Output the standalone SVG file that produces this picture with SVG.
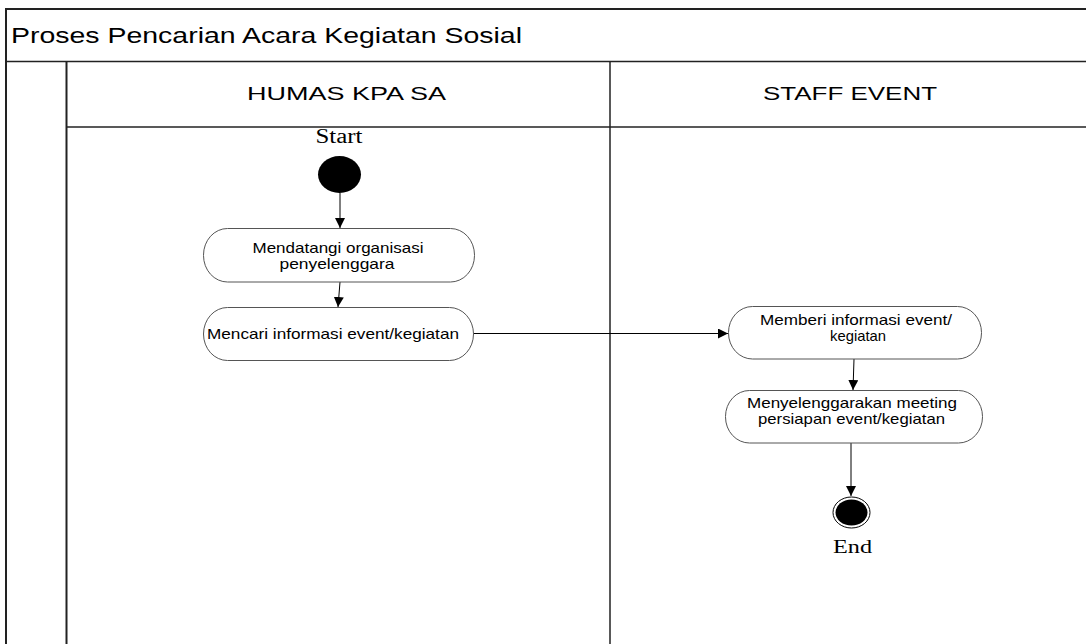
<svg xmlns="http://www.w3.org/2000/svg" width="1086" height="644" viewBox="0 0 1086 644">
<style>
.frame{fill:none;stroke:#222;stroke-width:1.3}
.node{fill:#fff;stroke:#555;stroke-width:1}
.t{font-family:"Liberation Sans",Arial,sans-serif;fill:#000}
.nt{font-family:"Liberation Sans",Arial,sans-serif;font-size:15px;fill:#000;text-anchor:middle}
.s{font-family:"Liberation Serif","Times New Roman",serif;fill:#000;text-anchor:middle}
.edge{fill:none;stroke:#000;stroke-width:1}
</style>
<defs>
<marker id="arr" viewBox="0 0 10 10" refX="10" refY="5" markerWidth="10" markerHeight="10" markerUnits="userSpaceOnUse" orient="auto">
<path d="M0,0 L10,5 L0,10 z" fill="#000"/>
</marker>
</defs>
<rect width="1086" height="644" fill="#fff"/>
<g id="frame">
<line x1="5" y1="9" x2="1086" y2="9" stroke="#222" stroke-width="2.2"/>
<line x1="6" y1="8" x2="6" y2="644" stroke="#222" stroke-width="2"/>
<line x1="6" y1="61.5" x2="1086" y2="61.5" class="frame"/>
<line x1="66.5" y1="61.5" x2="66.5" y2="644" stroke="#222" stroke-width="2"/>
<line x1="67" y1="127" x2="1086" y2="127" class="frame"/>
<line x1="610" y1="61.5" x2="610" y2="644" stroke="#222" stroke-width="1.5"/>
<text class="t" x="11" y="43" font-size="22.5" textLength="511" lengthAdjust="spacingAndGlyphs">Proses Pencarian Acara Kegiatan Sosial</text>
</g>
<g id="lane-humas">
<text class="t" x="247" y="100" font-size="19" textLength="199" lengthAdjust="spacingAndGlyphs">HUMAS KPA SA</text>
</g>
<g id="lane-staff">
<text class="t" x="763" y="100" font-size="19" textLength="174" lengthAdjust="spacingAndGlyphs">STAFF EVENT</text>
</g>
<g id="connectors">
<line class="edge" x1="340" y1="193" x2="340" y2="228" marker-end="url(#arr)"/>
<line class="edge" x1="340" y1="282" x2="338" y2="307" marker-end="url(#arr)"/>
<line class="edge" x1="474" y1="333.5" x2="728" y2="333.5" marker-end="url(#arr)"/>
<line class="edge" x1="854" y1="359" x2="853" y2="390" marker-end="url(#arr)"/>
<line class="edge" x1="851" y1="443" x2="851" y2="496" marker-end="url(#arr)"/>
</g>
<g id="start">
<text class="s" x="339" y="143" font-size="20" textLength="47" lengthAdjust="spacingAndGlyphs">Start</text>
<ellipse cx="339.5" cy="174.5" rx="21.5" ry="18.5" fill="#000"/>
</g>
<g id="n1">
<rect class="node" x="203.5" y="228.5" width="271" height="53.5" rx="24" ry="26.5"/>
<text class="nt" x="338" y="253" textLength="171" lengthAdjust="spacingAndGlyphs">Mendatangi organisasi</text>
<text class="nt" x="337" y="268.5" textLength="115" lengthAdjust="spacingAndGlyphs">penyelenggara</text>
</g>
<g id="n2">
<rect class="node" x="203.5" y="307.5" width="270" height="53" rx="24" ry="26.5"/>
<text class="nt" x="333" y="338.5" textLength="252" lengthAdjust="spacingAndGlyphs">Mencari informasi event/kegiatan</text>
</g>
<g id="n3">
<rect class="node" x="728.5" y="306.5" width="253" height="52.5" rx="24" ry="26"/>
<text class="nt" x="856" y="325" textLength="192" lengthAdjust="spacingAndGlyphs">Memberi informasi event/</text>
<text class="nt" x="858" y="341" textLength="56" lengthAdjust="spacingAndGlyphs">kegiatan</text>
</g>
<g id="n4">
<rect class="node" x="725.5" y="390.5" width="257" height="52.5" rx="24" ry="26"/>
<text class="nt" x="852" y="408" textLength="210" lengthAdjust="spacingAndGlyphs">Menyelenggarakan meeting</text>
<text class="nt" x="851.5" y="424" textLength="187" lengthAdjust="spacingAndGlyphs">persiapan event/kegiatan</text>
</g>
<g id="end">
<ellipse cx="851.5" cy="512.5" rx="18.5" ry="15.5" fill="#fff" stroke="#000" stroke-width="1"/>
<ellipse cx="851.5" cy="512.5" rx="16" ry="13" fill="#000"/>
<text class="s" x="852.5" y="553" font-size="19.5" textLength="39" lengthAdjust="spacingAndGlyphs">End</text>
</g>
</svg>
